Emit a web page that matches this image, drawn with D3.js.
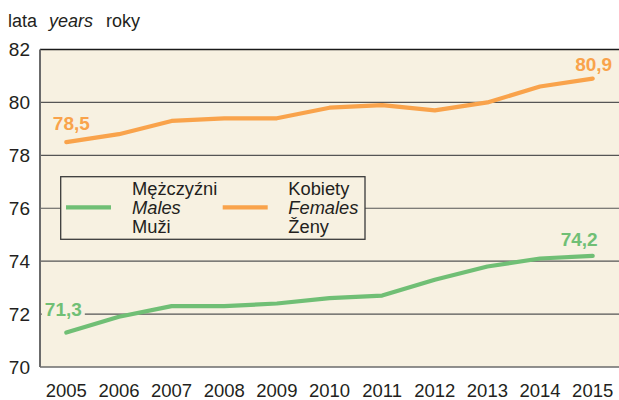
<!DOCTYPE html>
<html>
<head>
<meta charset="utf-8">
<script src="https://cdn.jsdelivr.net/npm/d3@7"></script>
<style>
  body { margin: 0; background: #fff; }
  svg { display: block; font-family: "Liberation Sans", Arial, sans-serif; }
</style>
</head>
<body>
<svg id="chart" width="619" height="400"></svg>
<script>
const years = [2005, 2006, 2007, 2008, 2009, 2010, 2011, 2012, 2013, 2014, 2015]
const males = [71.3, 71.9, 72.3, 72.3, 72.4, 72.6, 72.7, 73.3, 73.8, 74.1, 74.2]
const females = [78.5, 78.8, 79.3, 79.4, 79.4, 79.8, 79.9, 79.7, 80.0, 80.6, 80.9]
const yTicks = [70, 72, 74, 76, 78, 80, 82]
const maleNames = ["Mężczyźni", "Males", "Muži"]
const femaleNames = ["Kobiety", "Females", "Ženy"]

const green = "#70bf75"
const orange = "#f9a34b"
const bg = "#f7f1e1"
const ink = "#231f20"

const plot = { left: 40, right: 619, top: 49.5, bottom: 367 }
const $svg = d3.select("#chart")

const x = d3.scalePoint().domain(years).range([plot.left, plot.right]).padding(0.5)
const y = d3.scaleLinear().domain([70, 82]).range([plot.bottom, plot.top])

$svg.append("rect")
  .attr("x", plot.left).attr("y", plot.top)
  .attr("width", plot.right - plot.left).attr("height", plot.bottom - plot.top)
  .attr("fill", bg)

// gridlines
$svg.append("g")
  .selectAll("line")
  .data(yTicks.filter(d => d > 70 && d < 82))
  .enter().append("line")
  .attr("x1", plot.left).attr("x2", plot.right)
  .attr("y1", d => y(d)).attr("y2", d => y(d))
  .attr("stroke", "#555").attr("stroke-width", 1.2)

$svg.append("line")
  .attr("x1", plot.left).attr("x2", plot.right)
  .attr("y1", y(82)).attr("y2", y(82))
  .attr("stroke", "#1a1a1a").attr("stroke-width", 1.6)
$svg.append("line")
  .attr("x1", plot.left).attr("x2", plot.right)
  .attr("y1", y(70)).attr("y2", y(70))
  .attr("stroke", "#6b6b6b").attr("stroke-width", 1.6)
$svg.append("line")
  .attr("x1", plot.left).attr("x2", plot.left)
  .attr("y1", plot.top).attr("y2", plot.bottom)
  .attr("stroke", "#6b6b6b").attr("stroke-width", 2)

// axes labels
$svg.append("g")
  .selectAll("text")
  .data(yTicks)
  .enter().append("text")
  .attr("x", 30).attr("y", d => y(d)).attr("dy", "0.36em")
  .attr("text-anchor", "end")
  .attr("font-size", 19).attr("fill", ink)
  .text(d => d)

$svg.append("g")
  .selectAll("text")
  .data(years)
  .enter().append("text")
  .attr("x", d => x(d)).attr("y", 396.5)
  .attr("text-anchor", "middle")
  .attr("font-size", 18.5).attr("fill", ink)
  .text(d => d)

const $title = $svg.append("text")
  .attr("x", 8).attr("y", 26.5)
  .attr("font-size", 18).attr("fill", ink)
$title.append("tspan").text("lata")
$title.append("tspan").attr("dx", 12).attr("font-style", "italic").text("years")
$title.append("tspan").attr("dx", 13).text("roky")

// lines
const line = d3.line()
  .x((d, i) => x(years[i]))
  .y(d => y(d))

$svg.append("path").datum(females)
  .attr("d", line).attr("fill", "none")
  .attr("stroke", orange).attr("stroke-width", 4.2)
  .attr("stroke-linecap", "round").attr("stroke-linejoin", "round")
$svg.append("path").datum(males)
  .attr("d", line).attr("fill", "none")
  .attr("stroke", green).attr("stroke-width", 4.2)
  .attr("stroke-linecap", "round").attr("stroke-linejoin", "round")

// value labels
const fmt = v => d3.format(".1f")(v).replace(".", ",")
function valueLabel(v, yr, dx, dy, color, withBg) {
  const $g = $svg.append("g")
    .attr("transform", `translate(${x(yr) + dx}, ${y(v) + dy})`)
  const $t = $g.append("text")
    .attr("text-anchor", "middle")
    .attr("font-size", 19).attr("font-weight", "bold")
    .attr("fill", color)
    .text(fmt(v))
  if (withBg) {
    const b = $t.node().getBBox()
    $g.insert("rect", "text")
      .attr("x", b.x - 3).attr("y", b.y)
      .attr("width", b.width + 6).attr("height", b.height)
      .attr("fill", bg)
  }
}
valueLabel(females[0], years[0], 5, -12.5, orange, false)
valueLabel(females[10], years[10], 1, -7.5, orange, false)
valueLabel(males[0], years[0], -3, -17, green, true)
valueLabel(males[10], years[10], -13.5, -10, green, false)

// legend
const $legend = $svg.append("g")
$legend.append("rect")
  .attr("x", 60.7).attr("y", 176.7)
  .attr("width", 304.3).attr("height", 62.6)
  .attr("fill", bg).attr("stroke", "#3a3a3a").attr("stroke-width", 1.3)

const legendItems = [
  { color: green, names: maleNames, lx: 66, tx: 132 },
  { color: orange, names: femaleNames, lx: 222.7, tx: 288.3 }
]
legendItems.forEach(item => {
  $legend.append("line")
    .attr("x1", item.lx).attr("x2", item.lx + 45)
    .attr("y1", 207.3).attr("y2", 207.3)
    .attr("stroke", item.color).attr("stroke-width", 4.2)
  item.names.forEach((n, i) => {
    $legend.append("text")
      .attr("x", item.tx).attr("y", 195 + i * 19.2)
      .attr("font-size", 18.3).attr("fill", ink)
      .attr("font-style", i === 1 ? "italic" : "normal")
      .text(n)
  })
})
</script>
</body>
</html>
